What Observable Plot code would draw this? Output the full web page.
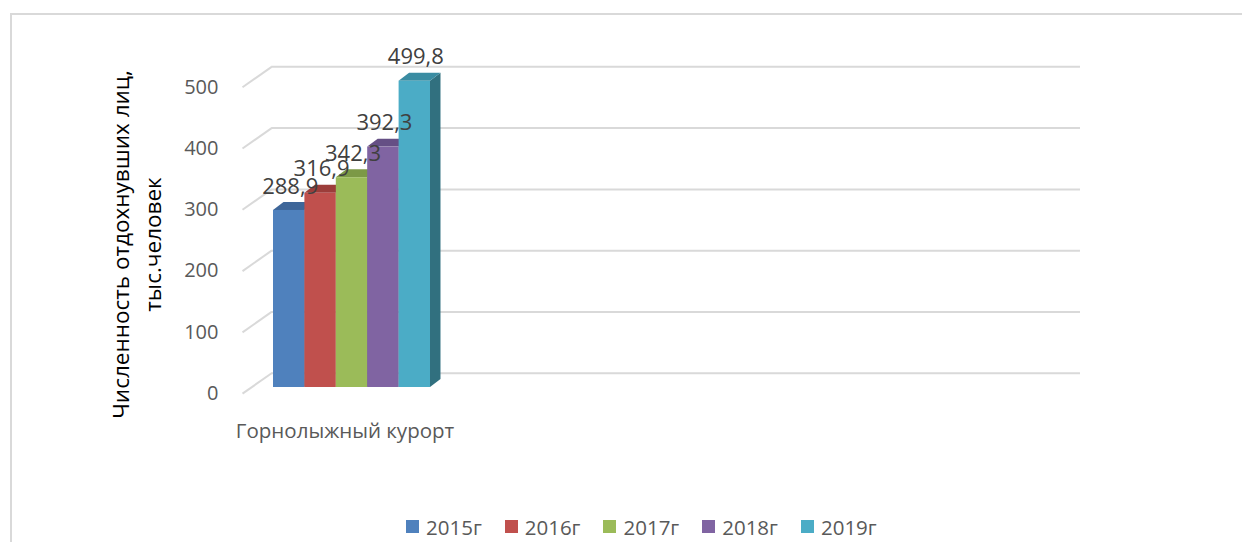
<!DOCTYPE html>
<html><head><meta charset="utf-8">
<script src="https://cdn.jsdelivr.net/npm/d3@7"></script>
<script src="https://cdn.jsdelivr.net/npm/@observablehq/plot@0.6"></script>
<style>
body{margin:0;background:#fff;font-family:"Open Sans",sans-serif;}
#wrap{position:relative;width:1242px;height:542px;overflow:hidden;background:#fff;}
#frame{position:absolute;left:10px;top:13px;width:1300px;height:600px;border-left:2px solid #d9d9d9;border-top:2px solid #d9d9d9;pointer-events:none;}
#chart{position:absolute;left:0;top:0;}
#legend{position:absolute;left:0;top:505px;width:1242px;height:37px;display:flex;align-items:center;padding-top:6px;box-sizing:border-box;font-family:"Open Sans",sans-serif;font-size:20.5px;color:#595959;}
.item{display:flex;align-items:center;margin-right:23px;}
.sw{width:13px;height:13px;margin-right:7px;}
</style></head><body>
<div id="wrap"><div id="chart"></div><div id="legend"></div><div id="frame"></div></div>
<script>
const categories = ["Горнолыжный курорт"];
const years = ["2015г", "2016г", "2017г", "2018г", "2019г"];
const values = [288.9, 316.9, 342.3, 392.3, 499.8];
const frontColors = ["#4F81BD", "#C0504D", "#9BBB59", "#8064A2", "#4BACC6"];
const topColors = ["#3E6699", "#9C3D3A", "#7C9946", "#654F85", "#3A8CA2"];
const sideColors = ["#2F4F77", "#7A2E2C", "#5F7636", "#4D3C65", "#31707F"];
const yTicks = [0, 100, 200, 300, 400, 500];
const yTitle = "Численность отдохнувших лиц,\nтыс.человек";

// 3D projection constants (in scale units)
const barDepthX = 0.334, barDepthY = 13;
const wallX0 = -0.06, wallX1 = 25.7, wallDY = 23.3;
const floorFrontX = -0.987, floorFrontDY = -10;

const fmt = v => d3.format(".1f")(v).replace(".", ",");

const bars = years.map((year, i) => ({year, i, value: values[i], front: frontColors[i], top: topColors[i], side: sideColors[i]}));
const sidePts = bars.flatMap(b => [
  {year: b.year, x: b.i + 1, y1: 0, y2: b.value, c: b.side},
  {year: b.year, x: b.i + 1 + barDepthX, y1: barDepthY, y2: b.value + barDepthY, c: b.side}
]);
const topPts = bars.flatMap(b => [
  {year: b.year, y: b.value, x1: b.i, x2: b.i + 1, c: b.top},
  {year: b.year, y: b.value + barDepthY, x1: b.i + barDepthX, x2: b.i + 1 + barDepthX, c: b.top}
]);

const H = 505, MT = 40, MB = 40, ML = 228;
const chart = Plot.plot({
  width: 1242, height: H,
  marginLeft: ML, marginRight: 20, marginTop: MT, marginBottom: MB,
  style: {fontFamily: "'Open Sans', sans-serif", fontSize: "20px", background: "transparent"},
  x: {domain: [0, 5], range: [273, 430], axis: null},
  y: {domain: [0, 500], range: [387, 80.6]},
  color: {type: "identity"},
  marks: [
    Plot.ruleY(yTicks, {y: d => d + wallDY, x1: wallX0, x2: wallX1, stroke: "#d9d9d9", strokeWidth: 2}),
    Plot.link(yTicks, {x1: floorFrontX, y1: d => d + floorFrontDY, x2: wallX0, y2: d => d + wallDY, stroke: "#d9d9d9", strokeWidth: 2}),
    Plot.areaY(sidePts, {x: "x", y1: "y1", y2: "y2", z: "year", fill: "c", curve: "linear"}),
    Plot.areaX(topPts, {y: "y", x1: "x1", x2: "x2", z: "year", fill: "c", curve: "linear"}),
    Plot.rect(bars, {x1: "i", x2: d => d.i + 1, y1: 0, y2: "value", fill: "front"}),
    Plot.text(bars, {x: d => d.i + 0.5, y: "value", text: d => fmt(d.value), dy: -24, dx: 1, fill: "#404040", fontSize: 22}),
    Plot.axisY(yTicks, {anchor: "left", tickSize: 0, tickPadding: 10, dy: 6, fill: "#595959", fontSize: 20, label: null}),
    Plot.text(categories, {x: 2.5, y: 0, text: d => d, dy: 44, dx: -7, fill: "#595959", fontSize: 20.5}),
    Plot.text([yTitle], {frameAnchor: "left", text: d => d, rotate: -90, textAnchor: "middle", lineAnchor: "middle", dx: -94, dy: 244 - (MT + (H - MT - MB) / 2), lineHeight: 1.42, fill: "#000", fontSize: 22.5})
  ]
});
document.getElementById("chart").appendChild(chart);

const legend = document.getElementById("legend");
legend.style.paddingLeft = "406px";
years.forEach((y, i) => {
  const it = document.createElement("div");
  it.className = "item";
  it.innerHTML = `<div class="sw" style="background:${frontColors[i]}"></div><span>${y}</span>`;
  legend.appendChild(it);
});
</script>
</body></html>
